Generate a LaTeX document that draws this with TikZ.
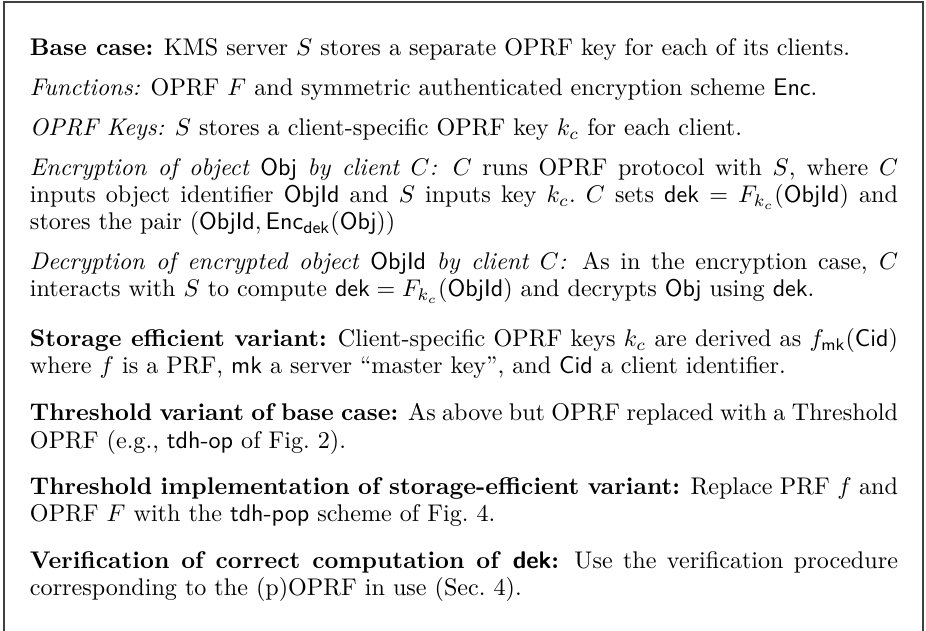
\documentclass[tikz,border=0pt]{standalone}
\newlength\LineOne
\newlength\px
\settowidth\LineOne{\fontsize{10}{12}\selectfont\textbf{Base case:} KMS server $S$ stores a separate OPRF key for each of its clients.}
\setlength\px{\dimexpr\LineOne/820\relax}
\newcommand\sfid[1]{\mathsf{#1}}
\tikzset{
  para/.style={anchor=base west, inner sep=0pt, outer sep=0pt,
    text width=868\px, align=justify,
    font=\fontsize{10}{12}\selectfont\setlength\baselineskip{27\px}},
  frameline/.style={draw=black!75, line width=1.1\px}
}
\begin{document}
\begin{tikzpicture}[x=\px, y=-\px]
\useasboundingbox (0,0) rectangle (926,631);
\coordinate (fbl) at (4,631);
\coordinate (ftl) at (4,2);
\coordinate (ftr) at (923,2);
\coordinate (fbr) at (923,631);
\draw[frameline] (fbl) -- (ftl) -- (ftr) -- (fbr);

\node[para] (p1) at (30,56) {\textbf{Base case:} KMS server $S$ stores a separate OPRF key for each of its clients.};
\node[para] (p2) at (30,96) {\emph{Functions:} OPRF $F$ and symmetric authenticated encryption scheme $\sfid{Enc}$.};
\node[para] (p3) at (30,136) {\emph{OPRF Keys:} $S$ stores a client-specific OPRF key $k_c$ for each client.};
\node[para] (p4) at (30,176) {\emph{Encryption of object} \textsf{Obj} \emph{by client $C$:} $C$ runs OPRF protocol with $S$, where $C$ inputs object identifier \textsf{ObjId} and $S$ inputs key $k_c$.\ $C$ sets $\sfid{dek} = F_{k_c}(\sfid{ObjId})$ and stores the pair $(\sfid{ObjId}, \sfid{Enc}_{\sfid{dek}}(\sfid{Obj}))$};
\node[para] (p5) at (30,270) {\emph{Decryption of encrypted object} \textsf{ObjId} \emph{by client $C$:} As in the encryption case, $C$ interacts with $S$ to compute $\sfid{dek} = F_{k_c}(\sfid{ObjId})$ and decrypts \textsf{Obj} using \textsf{dek}.};
\node[para] (p6) at (30,347) {\textbf{Storage efficient variant:} Client-specific OPRF keys $k_c$ are derived as $f_{\sfid{mk}}(\sfid{Cid})$ where $f$ is a PRF, \textsf{mk} a server ``master key'', and \textsf{Cid} a client identifier.};
\node[para] (p7) at (30,421) {\textbf{Threshold variant of base case:} As above but OPRF replaced with a Threshold OPRF (e.g., \textsf{tdh-op} of Fig.~2).};
\node[para] (p8) at (30,494.5) {\textbf{Threshold implementation of storage-efficient variant:} Replace PRF $f$ and OPRF $F$ with the \textsf{tdh-pop} scheme of Fig.~4.};
\node[para] (p9) at (30,568) {\textbf{Verification of correct computation of \textsf{dek}:} Use the verification procedure corresponding to the (p)OPRF in use (Sec.~4).};
\end{tikzpicture}
\end{document}
